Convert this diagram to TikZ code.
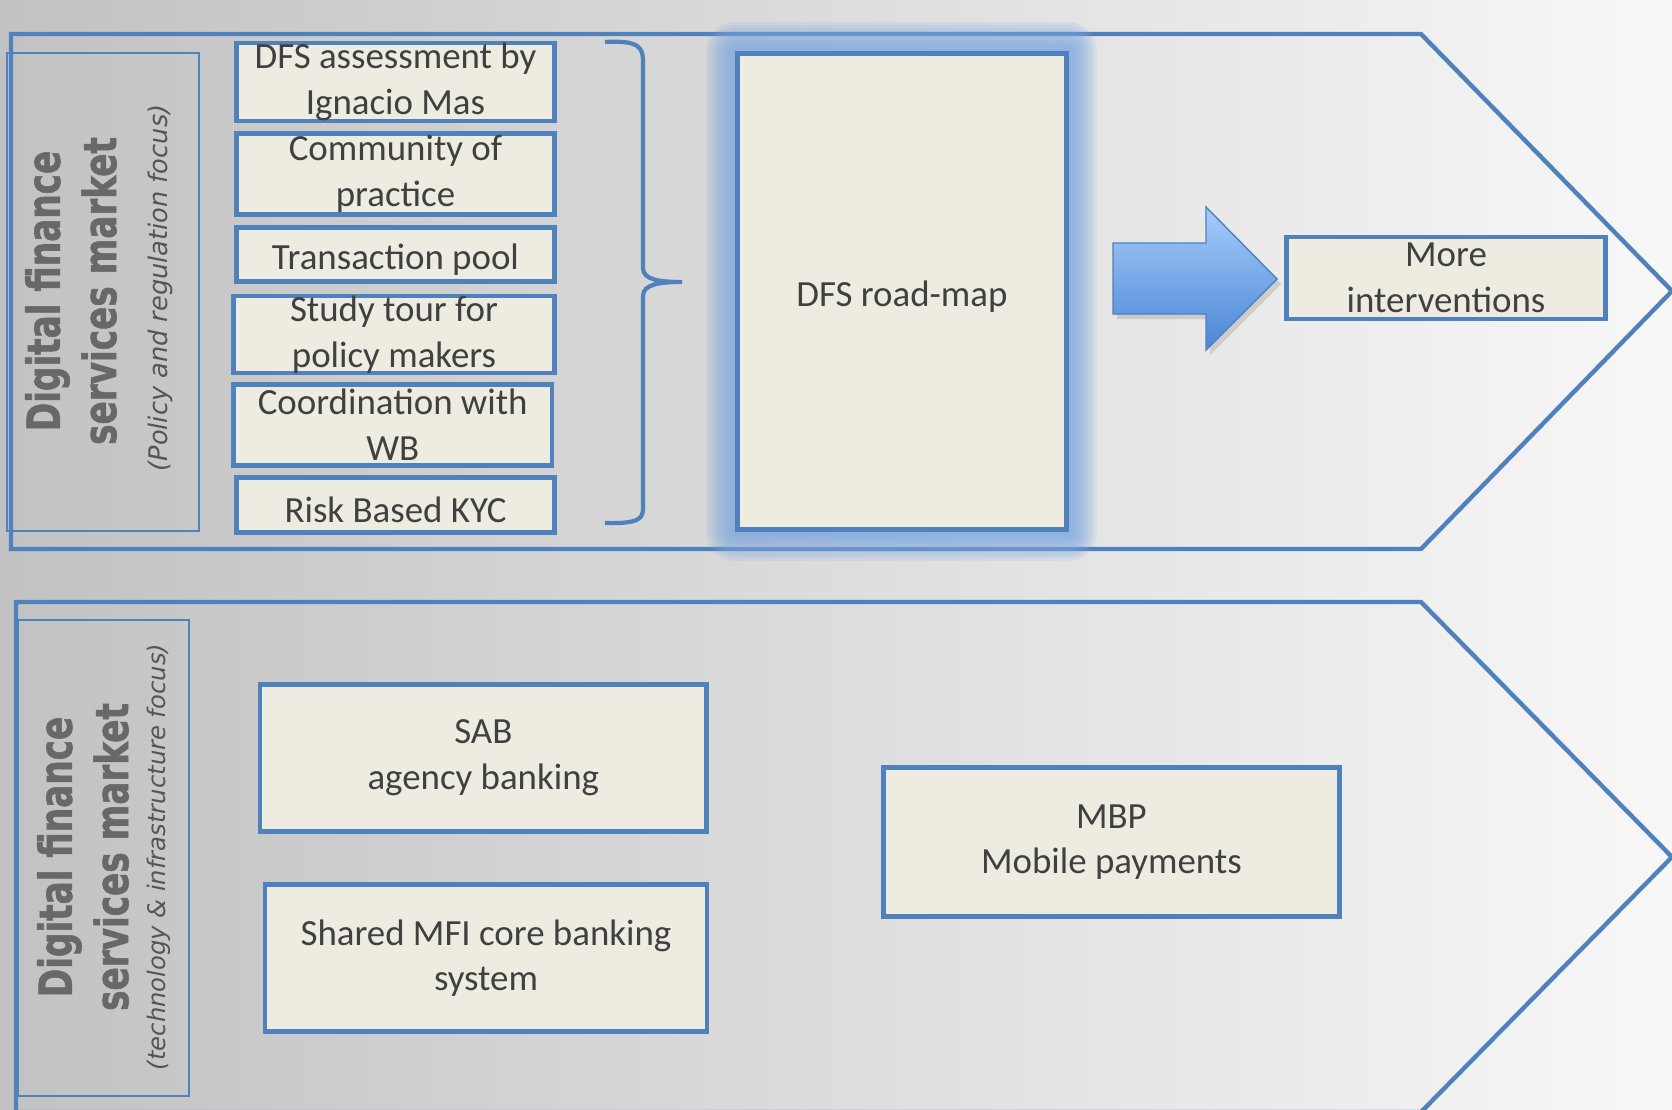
\documentclass[tikz,border=0pt]{standalone}
\usepackage{fontspec}
\setmainfont{Carlito}
\newfontfamily\sidefont[FakeStretch=0.75, BoldFeatures={FakeBold=1.2}]{DejaVu Sans}
\newfontfamily\notefont{DejaVu Sans}
\usetikzlibrary{positioning}
\definecolor{boxline}{HTML}{4F81BD}
\definecolor{boxfill}{HTML}{EEECE1}
\definecolor{boxtext}{HTML}{404040}
\definecolor{sidetext}{HTML}{686868}
\definecolor{notetext}{HTML}{555555}
\definecolor{glowblue}{HTML}{7FA9E0}
\definecolor{arrowtop}{HTML}{A7CCFA}
\definecolor{arrowbottom}{HTML}{4A86D4}

\begin{document}
\begin{tikzpicture}[x=0.02cm, y=-0.02cm,
  box/.style={draw=boxline, line width=2.6pt, fill=boxfill, text=boxtext, align=center,
    inner sep=0pt, font=\fontsize{21}{26}\selectfont, execute at begin node={\rule{0pt}{20pt}}},
  chevron/.style={draw=boxline, line width=2.5pt, line join=miter},
  sidebox/.style={draw=boxline, line width=1.3pt},
  sidelabel/.style={rotate=90, align=center, text=sidetext, font=\sidefont\bfseries\fontsize{26}{32}\selectfont},
  sidenote/.style={rotate=90, text=notetext, font=\notefont\itshape\fontsize{13.8}{17}\selectfont}]
  \useasboundingbox (0,0) rectangle (1672,1109);
  \clip (0,0) rectangle (1672,1109);
  \shade[left color=black!24, right color=black!3] (0,0) rectangle (1672,1109);

  % Policy and regulation row
  \begin{scope}
    \draw[chevron] (11,34) -- (1421,34) -- (1672,291) -- (1421,549) -- (11,549) -- cycle;
    \draw[sidebox] (7,53) rectangle (199,531);
    \node[sidelabel] (polname) at (71,291) {Digital finance\\services market};
    \node[sidenote, font=\notefont\itshape\fontsize{14.6}{17}\selectfont] (polnote) at (160,288) {(Policy and regulation focus)};

    \node[box, minimum width=6.36cm, minimum height=1.44cm] (assess) at (395.5,82) {DFS assessment by\\Ignacio Mas};
    \node[box, minimum width=6.36cm, minimum height=1.62cm] (community) at (395.5,174) {Community of\\practice};
    \node[box, minimum width=6.36cm, minimum height=1.09cm] (pool) at (395.5,254.5) {Transaction pool};
    \node[box, minimum width=6.43cm, minimum height=1.53cm] (tour) at (394,334.5) {Study tour for\\policy makers};
    \node[box, minimum width=6.38cm, minimum height=1.63cm] (coord) at (392.7,425) {Coordination with\\WB};
    \node[box, minimum width=6.36cm, minimum height=1.10cm] (kyc) at (395.5,505) {Risk Based KYC};

    \draw[boxline, line width=2.4pt] (605,42) .. controls (640,40) and (643,48) .. (643,62) -- (643,268)
      .. controls (643,280) and (660,282) .. (682,282) .. controls (660,282) and (643,284) .. (643,296)
      -- (643,508) .. controls (643,518) and (640,524) .. (605,523);

    % glow round the road-map
    \foreach \g in {1,...,10}
      \draw[glowblue, line width=\g*1.15mm, opacity=0.15, line join=round] (735,51) rectangle (1068,532);
    \node[box, minimum width=6.58cm, minimum height=9.53cm] (roadmap) at (902,291.5) {DFS road-map};

    \fill[black, opacity=0.12] (1117,248) -- (1210,248) -- (1210,212) -- (1281,284) -- (1210,355) -- (1210,319) -- (1117,319) -- cycle;
    \draw[boxline, line width=0.8pt, top color=arrowtop, bottom color=arrowbottom]
      (1113,243) -- (1206,243) -- (1206,207) -- (1277,279) -- (1206,350) -- (1206,314) -- (1113,314) -- cycle;
    \node[box, minimum width=6.39cm, minimum height=1.64cm] (more) at (1446,278) {More\\interventions};
  \end{scope}

  % Technology and infrastructure row
  \begin{scope}
    \draw[chevron] (16,1130) -- (16,602) -- (1421,602) -- (1672,857) -- (1421,1112) -- (16,1112);
    \draw[sidebox] (18,620) rectangle (189,1096);
    \node[sidelabel] (techname) at (83,857) {Digital finance\\services market};
    \node[sidenote] (technote) at (159,857) {(technology \& infrastructure focus)};

    \node[box, minimum width=8.94cm, minimum height=2.94cm] (sab) at (483.3,758) {SAB\\agency banking};
    \node[box, minimum width=8.84cm, minimum height=2.93cm] (mfi) at (486,958) {Shared MFI core banking\\system};
    \node[box, minimum width=9.12cm, minimum height=2.99cm] (mbp) at (1111.4,842) {MBP\\Mobile payments};
  \end{scope}
\end{tikzpicture}
\end{document}
